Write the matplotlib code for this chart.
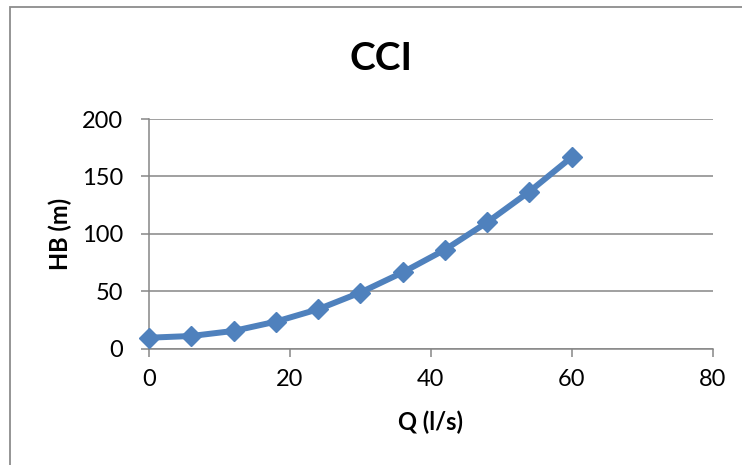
import matplotlib
matplotlib.use("Agg")
import matplotlib.pyplot as plt
from matplotlib.patches import Rectangle

q_values = [0, 6, 12, 18, 24, 30, 36, 42, 48, 54, 60]
hb_values = [9.4, 10.9, 15.3, 23.4, 34.2, 48.8, 66.3, 86.1, 110.0, 136.8, 166.8]
x_ticks = [0, 20, 40, 60, 80]
y_ticks = [0, 50, 100, 150, 200]
title_text = "CCI"
x_label = "Q (l/s)"
y_label = "HB (m)"

plt.rcParams['font.family'] = ['Lato', 'DejaVu Sans']

W, H = 742, 465
fig = plt.figure(figsize=(W / 100, H / 100), dpi=100)
fig.patch.set_facecolor('white')

# chart border (extends beyond right/bottom of image)
fig.patches.append(Rectangle((10 / W, -0.05), 1.2, 1 - 7 / H + 0.05,
                             transform=fig.transFigure, fill=False,
                             edgecolor='#8c8c8c', linewidth=1.3))

ax = fig.add_axes([149 / W, 1 - 348.5 / H, (712.7 - 149) / W, (348.5 - 119) / H])
grid_color = '#868686'
ax.plot(q_values, hb_values, color='#4F81BD', linewidth=4.3, marker='D',
        markersize=10, markerfacecolor='#4F81BD', markeredgecolor='#4F81BD',
        solid_joinstyle='round', clip_on=False, zorder=3)

ax.set_xlim(0, 80)
ax.set_ylim(0, 200)
ax.set_xticks(x_ticks)
ax.set_yticks(y_ticks)
ax.grid(axis='y', color=grid_color, linewidth=1.1)
ax.set_axisbelow(True)
for s in ['top', 'right']:
    ax.spines[s].set_visible(False)
for s in ['left', 'bottom']:
    ax.spines[s].set_color(grid_color)
    ax.spines[s].set_linewidth(1.1)
ax.tick_params(axis='both', direction='out', length=5.5, width=1.1,
               color=grid_color, labelsize=17, labelcolor='black')
ax.tick_params(axis='y', pad=13)
ax.tick_params(axis='x', pad=9)

fig.text(381 / W, 1 - 58 / H, title_text, ha='center', va='center',
         fontsize=28, fontweight='bold')
fig.text(431 / W, 1 - 422 / H, x_label, ha='center', va='center',
         fontsize=17, fontweight='bold')
fig.text(60 / W, 1 - 234 / H, y_label, ha='center', va='center',
         fontsize=17, fontweight='bold', rotation=90)

fig.savefig('out.png', dpi=100)
